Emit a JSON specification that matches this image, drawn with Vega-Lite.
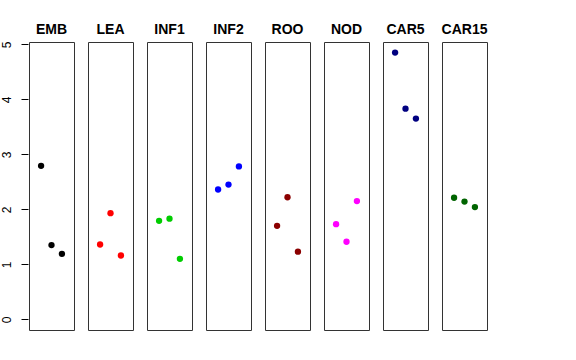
{
  "$schema": "https://vega.github.io/schema/vega-lite/v6.json",
  "padding": {"left": 0, "top": 23, "right": 5, "bottom": 5},
  "background": "white",
  "data": {"values": [
    {"g": "EMB", "i": 1, "v": 2.79}, {"g": "EMB", "i": 2, "v": 1.35}, {"g": "EMB", "i": 3, "v": 1.19},
    {"g": "LEA", "i": 1, "v": 1.36}, {"g": "LEA", "i": 2, "v": 1.93}, {"g": "LEA", "i": 3, "v": 1.16},
    {"g": "INF1", "i": 1, "v": 1.79}, {"g": "INF1", "i": 2, "v": 1.83}, {"g": "INF1", "i": 3, "v": 1.10},
    {"g": "INF2", "i": 1, "v": 2.36}, {"g": "INF2", "i": 2, "v": 2.45}, {"g": "INF2", "i": 3, "v": 2.78},
    {"g": "ROO", "i": 1, "v": 1.70}, {"g": "ROO", "i": 2, "v": 2.22}, {"g": "ROO", "i": 3, "v": 1.23},
    {"g": "NOD", "i": 1, "v": 1.73}, {"g": "NOD", "i": 2, "v": 1.41}, {"g": "NOD", "i": 3, "v": 2.15},
    {"g": "CAR5", "i": 1, "v": 4.85}, {"g": "CAR5", "i": 2, "v": 3.83}, {"g": "CAR5", "i": 3, "v": 3.65},
    {"g": "CAR15", "i": 1, "v": 2.21}, {"g": "CAR15", "i": 2, "v": 2.14}, {"g": "CAR15", "i": 3, "v": 2.04}
  ]},
  "facet": {
    "column": {
      "field": "g",
      "type": "nominal",
      "sort": ["EMB", "LEA", "INF1", "INF2", "ROO", "NOD", "CAR5", "CAR15"],
      "title": null,
      "header": {"labelFont": "Liberation Sans", "labelFontSize": 14, "labelFontWeight": "bold", "labelColor": "black", "labelPadding": 4}
    }
  },
  "spacing": 12,
  "spec": {
    "width": 45,
    "height": 288,
    "mark": {"type": "point", "filled": true, "opacity": 1, "size": 40},
    "encoding": {
      "x": {"field": "i", "type": "quantitative", "scale": {"domain": [-0.16, 4.16], "nice": false, "zero": false}, "axis": null},
      "y": {"field": "v", "type": "quantitative", "scale": {"domain": [-0.194, 5.042], "nice": false, "zero": false},
        "axis": {"title": null, "values": [0, 1, 2, 3, 4, 5], "grid": false, "domain": false, "tickSize": 7, "tickColor": "black",
          "labelAngle": -90, "labelFont": "Liberation Sans", "labelFontSize": 12, "labelColor": "black", "labelPadding": 8}},
      "color": {"field": "g", "type": "nominal", "legend": null,
        "scale": {"domain": ["EMB", "LEA", "INF1", "INF2", "ROO", "NOD", "CAR5", "CAR15"],
          "range": ["#000000", "#FF0000", "#00CD00", "#0000FF", "#8B0000", "#FF00FF", "#000080", "#006400"]}}
    }
  },
  "config": {"view": {"stroke": "#333333", "strokeWidth": 1}}
}
